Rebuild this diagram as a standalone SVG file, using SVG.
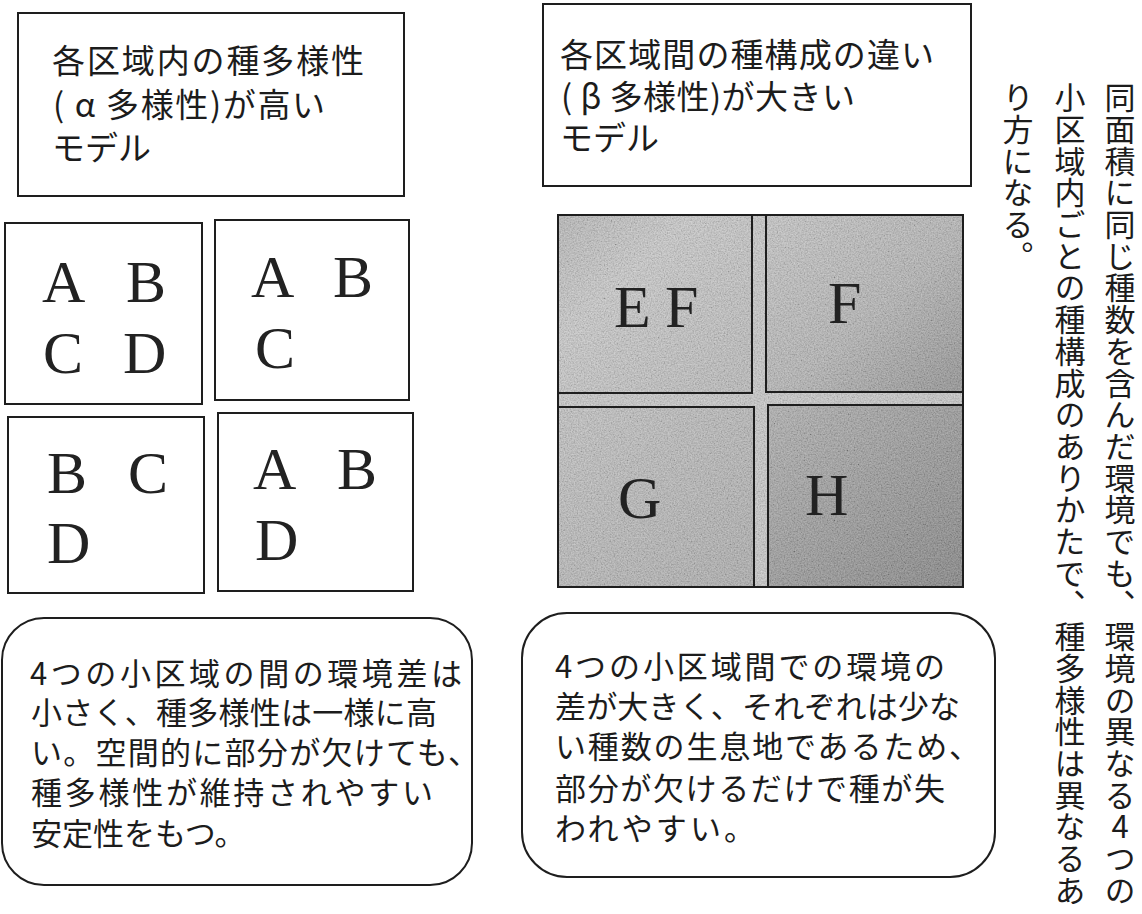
<svg xmlns="http://www.w3.org/2000/svg" width="1142" height="914" viewBox="0 0 1142 914">
<style>
.box{fill:#fff;stroke:#1e1e1e;stroke-width:2}
.jp{font-family:"Noto Sans CJK JP","Noto Sans",sans-serif;fill:#1c1c1c}
.h{font-size:33px}
.b{font-size:31px}
.vt{font-family:"Noto Sans CJK JP",sans-serif;fill:#1c1c1c;font-size:31px;letter-spacing:0.7px;writing-mode:vertical-rl;text-orientation:upright}
.ltr{font-family:"Liberation Serif","Times New Roman",serif;font-size:60px;fill:#222}
.cell{stroke:#1e1e1e;stroke-width:2}
.grain{filter:url(#noise);opacity:0.3}
</style>
<defs>
<linearGradient id="gEF" x1="0" y1="0" x2="1" y2="1"><stop offset="0" stop-color="#b4b4b4"/><stop offset="0.35" stop-color="#c8c8c8"/><stop offset="1" stop-color="#b6b6b6"/></linearGradient>
<linearGradient id="gF" x1="0" y1="0" x2="1" y2="1"><stop offset="0" stop-color="#c4c4c4"/><stop offset="0.55" stop-color="#b0b0b0"/><stop offset="1" stop-color="#8a8a8a"/></linearGradient>
<linearGradient id="gG" x1="0" y1="0" x2="1" y2="1"><stop offset="0" stop-color="#c0c0c0"/><stop offset="1" stop-color="#a8a8a8"/></linearGradient>
<linearGradient id="gH" x1="0" y1="0" x2="1" y2="1"><stop offset="0" stop-color="#ababab"/><stop offset="0.6" stop-color="#8e8e8e"/><stop offset="1" stop-color="#7a7a7a"/></linearGradient>
<filter id="noise" x="0" y="0" width="100%" height="100%">
<feTurbulence type="fractalNoise" baseFrequency="0.7" numOctaves="2" seed="4"/>
<feColorMatrix type="saturate" values="0"/>
<feComponentTransfer><feFuncR type="linear" slope="1.6" intercept="-0.3"/><feFuncG type="linear" slope="1.6" intercept="-0.3"/><feFuncB type="linear" slope="1.6" intercept="-0.3"/><feFuncA type="linear" slope="0" intercept="1"/></feComponentTransfer>
</filter>
</defs>
<rect width="1142" height="914" fill="#fff"/>

<g id="title-alpha">
<rect class="box" x="18" y="13" width="386" height="183"/>
<text class="jp h" x="52" y="73" textLength="312">各区域内の種多様性</text>
<text class="jp h" x="53" y="117" textLength="272">( α 多様性)が高い</text>
<text class="jp h" x="52" y="160">モデル</text>
</g>

<g id="title-beta">
<rect class="box" x="543" y="4" width="428" height="182"/>
<text class="jp h" x="560" y="67" textLength="374">各区域間の種構成の違い</text>
<text class="jp h" x="561" y="109" textLength="294">( β 多様性)が大きい</text>
<text class="jp h" x="560" y="150">モデル</text>
</g>

<g id="alpha-grid">
<g id="cell-a1">
<rect class="box" x="5" y="223" width="197" height="181"/>
<text class="ltr" x="42" y="302">A</text><text class="ltr" x="126" y="302">B</text>
<text class="ltr" x="43" y="373">C</text><text class="ltr" x="123" y="373">D</text>
</g>
<g id="cell-a2">
<rect class="box" x="215" y="220" width="194" height="180"/>
<text class="ltr" x="251" y="297">A</text><text class="ltr" x="333" y="297">B</text>
<text class="ltr" x="255" y="368">C</text>
</g>
<g id="cell-a3">
<rect class="box" x="8" y="417" width="196" height="176"/>
<text class="ltr" x="47" y="493">B</text><text class="ltr" x="128" y="493">C</text>
<text class="ltr" x="47" y="563">D</text>
</g>
<g id="cell-a4">
<rect class="box" x="218" y="413" width="195" height="178"/>
<text class="ltr" x="253" y="489">A</text><text class="ltr" x="337" y="489">B</text>
<text class="ltr" x="255" y="560">D</text>
</g>
</g>

<g id="beta-grid">
<rect x="558" y="215" width="405" height="372" fill="#c6c6c6"/>
<rect class="grain" x="558" y="215" width="405" height="372"/>
<rect x="558" y="215" width="405" height="372" fill="none" stroke="#1e1e1e" stroke-width="2"/>
<g id="cell-b1">
<rect class="cell" x="558" y="215" width="194" height="178" fill="url(#gEF)"/>
<rect class="grain" x="559" y="216" width="192" height="176"/>
<text class="ltr" x="614" y="327">E</text><text class="ltr" x="665" y="327">F</text>
</g>
<g id="cell-b2">
<rect class="cell" x="766" y="215" width="197" height="177" fill="url(#gF)"/>
<rect class="grain" x="767" y="216" width="195" height="175"/>
<text class="ltr" x="828" y="323">F</text>
</g>
<g id="cell-b3">
<rect class="cell" x="558" y="407" width="196" height="180" fill="url(#gG)"/>
<rect class="grain" x="559" y="408" width="194" height="178"/>
<text class="ltr" x="618" y="518">G</text>
</g>
<g id="cell-b4">
<rect class="cell" x="768" y="405" width="195" height="182" fill="url(#gH)"/>
<rect class="grain" x="769" y="406" width="193" height="180"/>
<text class="ltr" x="805" y="515">H</text>
</g>
</g>

<g id="note-alpha">
<rect class="box" x="2" y="618" width="470" height="267" rx="42"/>
<text class="jp b" x="30" y="685" textLength="432">4つの小区域の間の環境差は</text>
<text class="jp b" x="31" y="724" textLength="406">小さく、種多様性は一様に高</text>
<text class="jp b" x="31" y="764" textLength="448">い。空間的に部分が欠けても、</text>
<text class="jp b" x="31" y="804" textLength="402">種多様性が維持されやすい</text>
<text class="jp b" x="31" y="845">安定性をもつ。</text>
</g>

<g id="note-beta">
<rect class="box" x="522" y="613" width="473" height="264" rx="45"/>
<text class="jp b" x="555" y="678" textLength="390">4つの小区域間での環境の</text>
<text class="jp b" x="555" y="718" textLength="405">差が大きく、それぞれは少な</text>
<text class="jp b" x="555" y="758" textLength="425">い種数の生息地であるため、</text>
<text class="jp b" x="555" y="800" textLength="390">部分が欠けるだけで種が失</text>
<text class="jp b" x="555" y="840" textLength="200">われやすい。</text>
</g>

<g id="side-note">
<text class="vt" x="1120" y="82">同面積に同じ種数を含んだ環境でも、環境の異なる4つの</text>
<text class="vt" x="1070" y="82">小区域内ごとの種構成のありかたで、種多様性は異なるあ</text>
<text class="vt" x="1018" y="82">り方になる。</text>
</g>

<g id="connectors"></g>
</svg>
